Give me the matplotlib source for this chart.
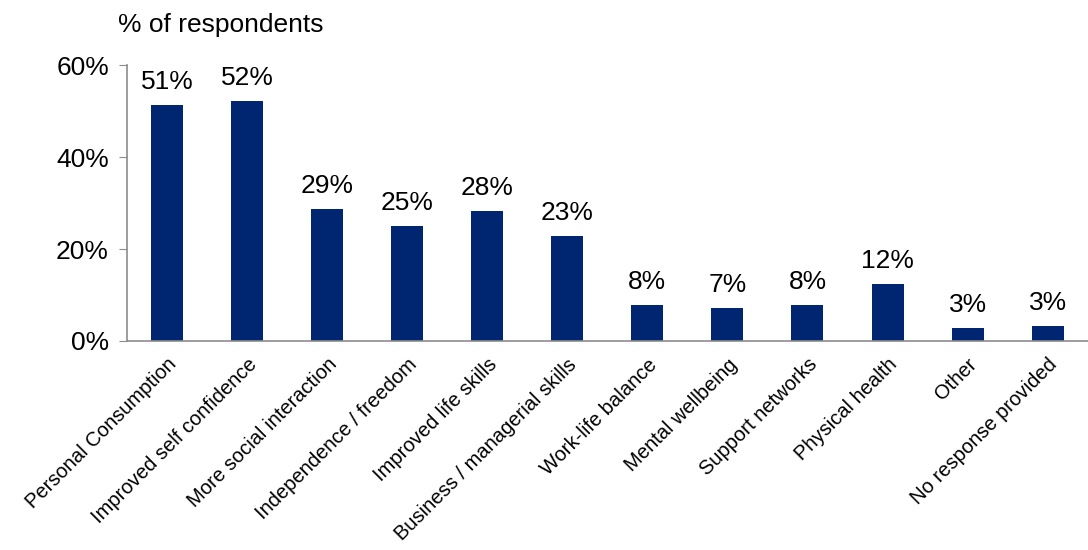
import matplotlib
matplotlib.use("Agg")
import matplotlib.pyplot as plt
import numpy as np

# survey categories and share of respondents (%)
categories = [
    "Personal Consumption",
    "Improved self confidence",
    "More social interaction",
    "Independence / freedom",
    "Improved life skills",
    "Business / managerial skills",
    "Work-life balance",
    "Mental wellbeing",
    "Support networks",
    "Physical health",
    "Other",
    "No response provided",
]
shares = [51.3, 52.2, 28.7, 25.0, 28.3, 22.8, 7.8, 7.2, 7.8, 12.4, 2.8, 3.3]
yticks = [0, 20, 40, 60]

plt.rcParams["font.family"] = ["Liberation Sans", "DejaVu Sans"]

BAR_COLOR = "#002672"
AXIS_COLOR = "#8c8c8c"

fig = plt.figure(figsize=(10.88, 5.5), dpi=100)
ax = fig.add_axes([0.1167, 0.38, 0.883, 0.5018])

x = np.arange(len(categories))
bars = ax.bar(x, shares, width=0.4, color=BAR_COLOR)

# value labels above each bar
for xi, v in zip(x, shares):
    ax.annotate(f"{v:.0f}%", (xi, v), xytext=(0, 8), textcoords="offset points",
                ha="center", va="bottom", fontsize=19, color="black")

ax.set_xlim(-0.5, len(categories) - 0.5)
ax.set_ylim(0, 60)
ax.set_yticks(yticks)
ax.set_yticklabels([f"{t}%" for t in yticks], fontsize=19)
ax.tick_params(axis="y", direction="out", length=6, color=AXIS_COLOR, pad=7)
ax.set_xticks(x)
ax.set_xticklabels(categories, rotation=45, ha="right", va="top",
                   rotation_mode="anchor", fontsize=14.5)
ax.tick_params(axis="x", length=0, pad=10)

for side in ("top", "right"):
    ax.spines[side].set_visible(False)
for side in ("left", "bottom"):
    ax.spines[side].set_color(AXIS_COLOR)
    ax.spines[side].set_linewidth(1.2)

fig.text(0.108, 0.955, "% of respondents", fontsize=19, ha="left", va="center")

fig.savefig("out.png", dpi=100)
